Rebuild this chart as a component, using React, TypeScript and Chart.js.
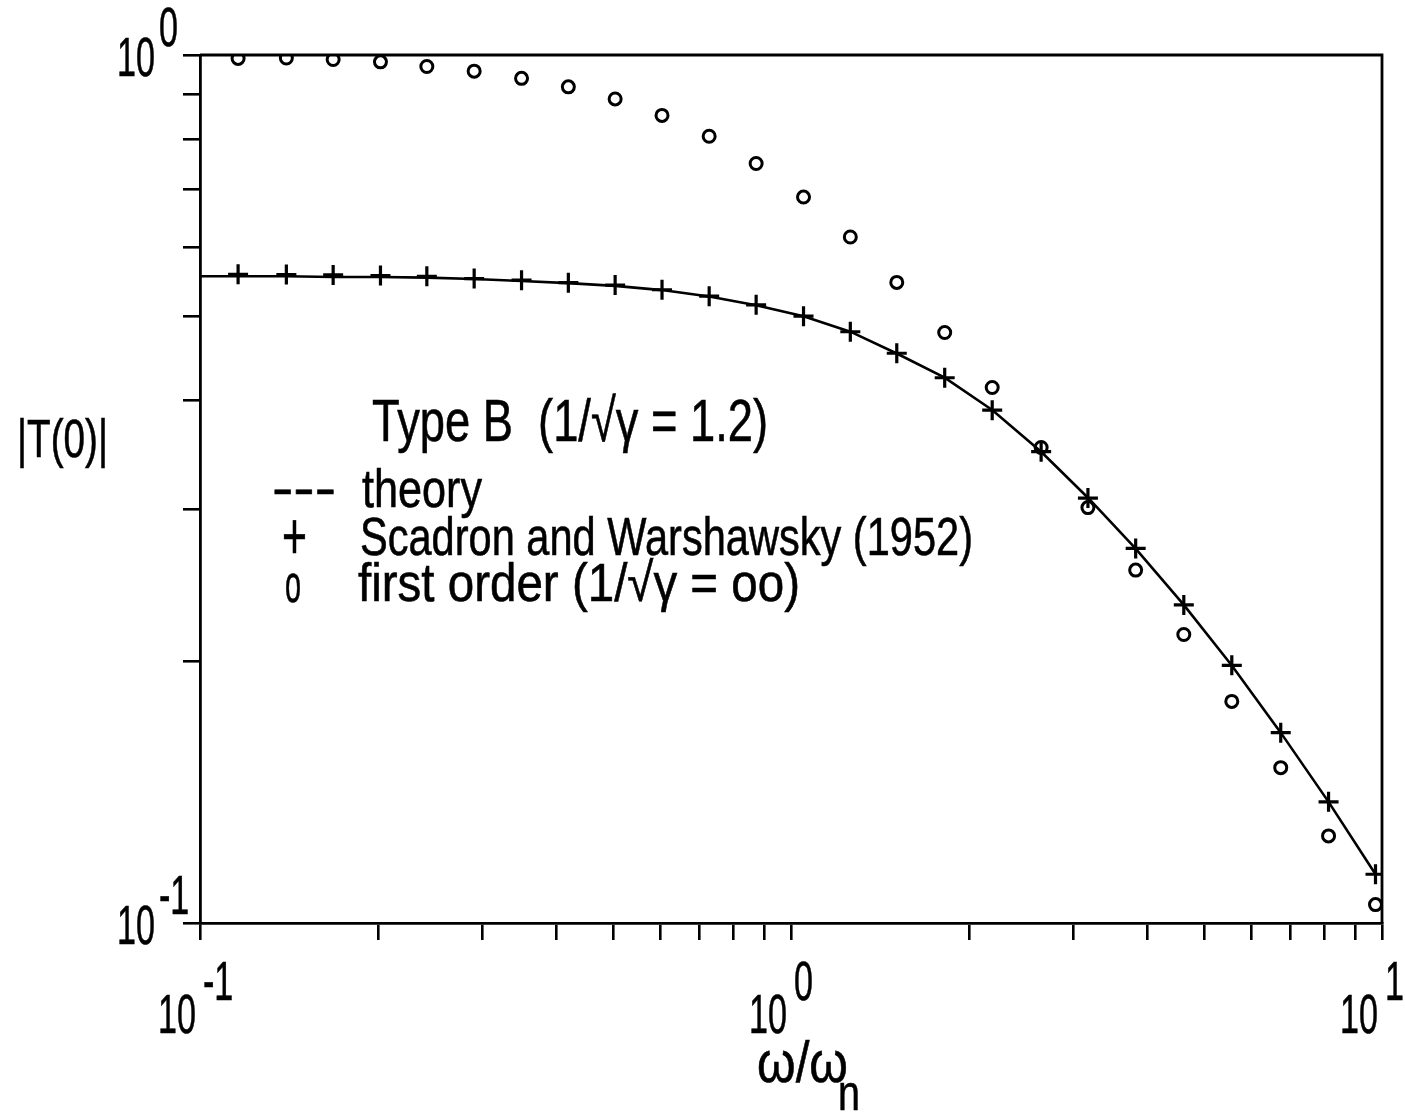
import React, { useEffect, useRef } from 'react';
import { Chart, registerables } from 'chart.js';

Chart.register(...registerables);

// Frequency ratio ω/ω_n at which the tabulated points were computed
const frequencyRatio = [
  0.116, 0.14, 0.168, 0.202, 0.242, 0.291, 0.35, 0.42, 0.504, 0.605, 0.727, 0.873,
  1.05, 1.26, 1.51, 1.82, 2.19, 2.65, 3.18, 3.83, 4.62, 5.57, 6.74, 8.12, 9.75,
];

// Scadron and Warshawsky (1952), |T(0)|
const scadronWarshawsky = [
  0.559, 0.5585, 0.558, 0.557, 0.556, 0.5526, 0.5503, 0.5467, 0.5431, 0.5365, 0.5274, 0.5155,
  0.5001, 0.4799, 0.4533, 0.4248, 0.3898, 0.3491, 0.3087, 0.2701, 0.2325, 0.1981, 0.1657, 0.1379, 0.1138,
];

// First order response (1/√γ = ∞)
const firstOrder = [
  0.991, 0.992, 0.988, 0.982, 0.97, 0.958, 0.94, 0.919, 0.89, 0.852, 0.806, 0.75,
  0.686, 0.617, 0.547, 0.479, 0.414, 0.353, 0.301, 0.255, 0.215, 0.18, 0.151, 0.126, 0.105,
];

// Theory curve, Type B with 1/√γ = 1.2
const theoryRatio = [
  0.1, 0.116, 0.14, 0.168, 0.202, 0.242, 0.291, 0.35, 0.42, 0.504, 0.605, 0.727, 0.873,
  1.05, 1.26, 1.51, 1.82, 2.19, 2.65, 3.18, 3.83, 4.62, 5.57, 6.74, 8.12, 9.75,
];
const theoryValue = [
  0.556, 0.556, 0.556, 0.555, 0.555, 0.554, 0.552, 0.549, 0.546, 0.542, 0.536, 0.527, 0.515,
  0.5, 0.48, 0.453, 0.425, 0.39, 0.349, 0.309, 0.27, 0.2325, 0.198, 0.1657, 0.1379, 0.1138,
];

// Axis tick positions and decade labels
const xTickValues = [
  0.1, 0.2, 0.3, 0.4, 0.5, 0.6, 0.7, 0.8, 0.9, 1, 2, 3, 4, 5, 6, 7, 8, 9, 10,
];
const yTickValues = [0.1, 0.2, 0.3, 0.4, 0.5, 0.6, 0.7, 0.8, 0.9, 1];
const xDecades = [0.1, 1, 10];
const xExponents = ['-1', '0', '1'];
const yDecades = [0.1, 1];
const yExponents = ['-1', '0'];

const FONT = "'Liberation Sans', 'DejaVu Sans', sans-serif";

function textWidth(ctx: CanvasRenderingContext2D, text: string, size: number, squeeze: number) {
  ctx.save();
  ctx.font = `${size}px ${FONT}`;
  const w = ctx.measureText(text).width * squeeze;
  ctx.restore();
  return w;
}

function drawSqueezed(
  ctx: CanvasRenderingContext2D,
  text: string,
  x: number,
  y: number,
  size: number,
  squeeze: number,
) {
  ctx.save();
  ctx.font = `${size}px ${FONT}`;
  ctx.fillStyle = '#000';
  ctx.strokeStyle = '#000';
  ctx.lineWidth = 0.6;
  ctx.textAlign = 'left';
  ctx.textBaseline = 'alphabetic';
  ctx.translate(x, y);
  ctx.scale(squeeze, 1);
  ctx.fillText(text, 0, 0);
  ctx.strokeText(text, 0, 0);
  ctx.restore();
}

function drawFitted(
  ctx: CanvasRenderingContext2D,
  text: string,
  x: number,
  y: number,
  size: number,
  width: number,
) {
  ctx.save();
  ctx.font = `${size}px ${FONT}`;
  const natural = ctx.measureText(text).width;
  ctx.restore();
  drawSqueezed(ctx, text, x, y, size, width / natural);
}

const TICK_SIZE = 55;
const TICK_SQUEEZE = 0.62;

// Closes the frame on the top and right, and draws the annotation text
const annotationPlugin = {
  id: 'annotations',
  afterDatasetsDraw(chart: Chart) {
    const { ctx, chartArea } = chart;
    ctx.save();
    ctx.strokeStyle = '#000';
    ctx.lineWidth = 2.8;
    ctx.beginPath();
    ctx.moveTo(chartArea.left, chartArea.top);
    ctx.lineTo(chartArea.right, chartArea.top);
    ctx.lineTo(chartArea.right, chartArea.bottom);
    ctx.stroke();
    ctx.restore();
  },
  afterDraw(chart: Chart) {
    const { ctx, chartArea } = chart;
    const xs = chart.scales.x;
    const ys = chart.scales.y;

    // decade labels on the x axis
    xDecades.forEach((v, i) => {
      const px = xs.getPixelForValue(v);
      const base = chartArea.bottom + 110;
      const w = textWidth(ctx, '10', TICK_SIZE, TICK_SQUEEZE);
      drawSqueezed(ctx, '10', px - 4 - w, base, TICK_SIZE, TICK_SQUEEZE);
      drawSqueezed(ctx, xExponents[i], px + 3, base - 33, TICK_SIZE, TICK_SQUEEZE);
    });

    // decade labels on the y axis
    yDecades.forEach((v, i) => {
      const py = ys.getPixelForValue(v);
      const base = py + 21;
      const w = textWidth(ctx, '10', TICK_SIZE, TICK_SQUEEZE);
      const right = chartArea.left - 45;
      drawSqueezed(ctx, '10', right - w, base, TICK_SIZE, TICK_SQUEEZE);
      drawSqueezed(ctx, yExponents[i], right + 4, base - 30, TICK_SIZE, TICK_SQUEEZE);
    });

    // axis titles
    drawFitted(ctx, '|T(0)|', 17, 457, 53, 91);
    drawFitted(ctx, 'ω/ω', 757, 1082, 58, 91);
    drawFitted(ctx, 'n', 838, 1110, 50, 22);

    // key
    drawFitted(ctx, 'Type B  (1/√γ = 1.2)', 372, 441, 60, 396);
    drawFitted(ctx, '---', 272, 506, 54, 64);
    drawFitted(ctx, 'theory', 362, 507, 54, 120);
    drawFitted(ctx, '+', 282, 559, 66, 25);
    drawFitted(ctx, 'Scadron and Warshawsky (1952)', 360, 555, 54, 613);
    drawFitted(ctx, 'o', 285, 602, 54, 16);
    drawFitted(ctx, 'first order (1/√γ = oo)', 358, 601, 54, 442);
  },
};

export default function App() {
  const canvasRef = useRef<HTMLCanvasElement | null>(null);

  useEffect(() => {
    const canvas = canvasRef.current;
    if (!canvas) return;

    const axisCommon = {
      type: 'logarithmic' as const,
      border: { display: true, color: '#000', width: 2.8 },
      grid: {
        display: true,
        drawOnChartArea: false,
        drawTicks: true,
        tickLength: 17,
        tickWidth: 2.6,
        tickColor: '#000',
        color: '#000',
        lineWidth: 2.6,
      },
      ticks: { display: false },
      title: { display: false },
    };

    const chart = new Chart(canvas, {
      type: 'scatter',
      data: {
        datasets: [
          {
            label: 'theory',
            data: theoryRatio.map((x, i) => ({ x, y: theoryValue[i] })),
            showLine: true,
            borderColor: '#000',
            borderWidth: 2.6,
            pointRadius: 0,
            tension: 0,
            clip: 0,
          },
          {
            label: 'Scadron and Warshawsky (1952)',
            data: frequencyRatio.map((x, i) => ({ x, y: scadronWarshawsky[i] })),
            showLine: false,
            pointStyle: 'cross',
            pointRadius: 10,
            borderColor: '#000',
            borderWidth: 3.2,
            clip: 0,
          },
          {
            label: 'first order',
            data: frequencyRatio.map((x, i) => ({ x, y: firstOrder[i] })),
            showLine: false,
            pointStyle: 'circle',
            pointRadius: 6,
            backgroundColor: 'rgba(0,0,0,0)',
            borderColor: '#000',
            borderWidth: 3,
            clip: 0,
          },
        ],
      },
      options: {
        animation: false,
        responsive: false,
        maintainAspectRatio: false,
        devicePixelRatio: 1,
        layout: { padding: { left: 0, top: 55, right: 23, bottom: 0 } },
        plugins: {
          legend: { display: false },
          tooltip: { enabled: false },
          title: { display: false },
        },
        scales: {
          x: {
            ...axisCommon,
            position: 'bottom',
            min: 0.1,
            max: 10,
            afterBuildTicks: (scale: any) => {
              scale.ticks = xTickValues.map((value) => ({ value }));
            },
            afterFit: (scale: any) => {
              scale.height = 191;
            },
          },
          y: {
            ...axisCommon,
            position: 'left',
            min: 0.1,
            max: 1,
            afterBuildTicks: (scale: any) => {
              scale.ticks = yTickValues.map((value) => ({ value }));
            },
            afterFit: (scale: any) => {
              scale.width = 200;
            },
          },
        },
      },
      plugins: [annotationPlugin],
    } as any);

    return () => chart.destroy();
  }, []);

  return (
    <div
      style={{
        position: 'absolute',
        left: 0,
        top: 0,
        width: 1405,
        height: 1114,
        background: '#fff',
      }}
    >
      <canvas ref={canvasRef} width={1405} height={1114} />
    </div>
  );
}
